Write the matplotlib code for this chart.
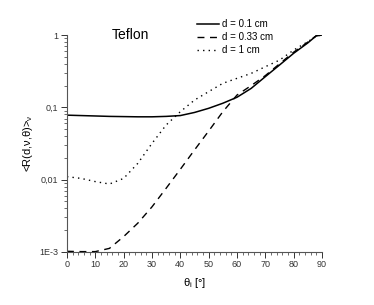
import matplotlib
matplotlib.use("Agg")
import matplotlib.pyplot as plt
from matplotlib.ticker import FixedLocator, MultipleLocator, LogLocator, NullFormatter

plt.rcParams['font.family'] = ['Liberation Sans', 'DejaVu Sans']

# angles (deg) and reflectance values
theta = [0, 5, 10, 15, 20, 25, 30, 35, 40, 45, 50, 55, 60, 65, 70, 75, 80, 85, 88, 90]
r_01 = [0.078, 0.077, 0.076, 0.075, 0.0745, 0.074, 0.074, 0.075, 0.077, 0.085, 0.097,
        0.114, 0.138, 0.183, 0.266, 0.385, 0.56, 0.78, 0.98, 1.0]
r_033 = [0.00102, 0.00101, 0.00101, 0.00112, 0.00163, 0.0025, 0.0042, 0.0076, 0.0139, 0.0257,
         0.047, 0.087, 0.148, 0.2, 0.275, 0.40, 0.58, 0.80, 0.98, 1.0]
r_1 = [0.011, 0.0104, 0.0094, 0.0087, 0.0104, 0.0168, 0.0317, 0.057, 0.087, 0.126, 0.165,
       0.215, 0.252, 0.295, 0.365, 0.45, 0.62, 0.81, 0.97, 1.0]

fig = plt.figure(figsize=(3.74, 3.05), dpi=100)
ax = fig.add_axes([0.179, 0.174, 0.682, 0.711])

ax.plot(theta, r_01, color='black', lw=1.1, ls='-', label='d = 0.1 cm')
ax.plot(theta, r_033, color='black', lw=1.0, ls=(0, (5, 4)), label='d = 0.33 cm')
ax.plot(theta, r_1, color='black', lw=1.0, ls=(0, (1, 3)), label='d = 1 cm')

ax.set_yscale('log')
ax.set_xlim(0, 90)
ax.set_ylim(1e-3, 1)

ax.xaxis.set_major_locator(MultipleLocator(10))
ax.xaxis.set_minor_locator(MultipleLocator(2))
ax.yaxis.set_major_locator(FixedLocator([1e-3, 1e-2, 1e-1, 1]))
ax.yaxis.set_minor_locator(LogLocator(base=10, subs=range(2, 10)))
ax.yaxis.set_minor_formatter(NullFormatter())
ax.set_yticklabels(['1E-3', '0,01', '0,1', '1'])

for s in ['top', 'right']:
    ax.spines[s].set_visible(False)
for s in ['left', 'bottom']:
    ax.spines[s].set_color('#555555')
    ax.spines[s].set_linewidth(0.8)

ax.tick_params(which='major', length=4, width=0.7, labelsize=6.5, colors='#333333', pad=2)
ax.tick_params(which='minor', length=2, width=0.6, colors='#555555')

ax.set_xlabel(r'θ$_\mathregular{i}$ [°]', fontsize=8, labelpad=5)
ax.set_ylabel(r'<R(d,ν,θ)>$_\mathregular{ν}$', fontsize=8, labelpad=3)

ax.text(0.25, 1.0, 'Teflon', transform=ax.transAxes, fontsize=10, ha='center', va='center')

ax.legend(loc='upper left', bbox_to_anchor=(0.495, 1.09), frameon=False, fontsize=7,
          handlelength=2.3, handletextpad=0.3, labelspacing=0.3, borderaxespad=0)

fig.savefig('out.png', dpi=100)
